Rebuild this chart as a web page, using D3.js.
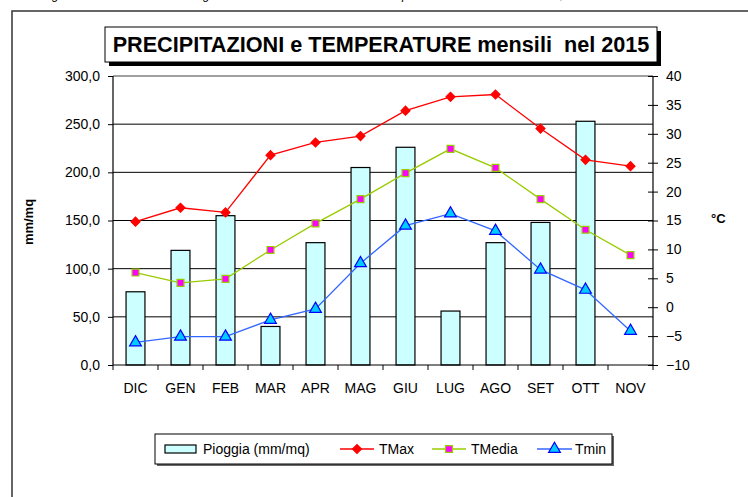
<!DOCTYPE html>
<html><head><meta charset="utf-8">
<script src="https://cdn.jsdelivr.net/npm/d3@7"></script>
<style>
html,body{margin:0;padding:0;background:#fff;}
svg{display:block;font-family:"Liberation Sans",Arial,sans-serif;}
</style></head>
<body>
<svg id="c" width="748" height="497"></svg>
<script>
const months = ["DIC","GEN","FEB","MAR","APR","MAG","GIU","LUG","AGO","SET","OTT","NOV"];
const pioggia = [76,119,155,40,127,205,226,56,127,148,253,0];
const tmax   = [14.8,17.2,16.4,26.3,28.5,29.6,34.0,36.4,36.8,30.9,25.5,24.4];
const tmedia = [6.0,4.2,4.9,9.9,14.5,18.7,23.2,27.4,24.1,18.7,13.4,9.0];
const tmin   = [-6.1,-5.1,-5.1,-2.2,-0.3,7.6,14.1,16.2,13.2,6.5,3.0,-4.1];
const leftTicks = [0,50,100,150,200,250,300];
const rightTicks = [-10,-5,0,5,10,15,20,25,30,35,40];
const titleText = "PRECIPITAZIONI e TEMPERATURE mensili  nel 2015";
const seriesNames = ["Pioggia (mm/mq)","TMax","TMedia","Tmin"];
const captionParts = ["Immagine 1 – Andamento","generale delle Medie e","piovosità mensili del 2015",","];

const svg = d3.select("#c");
const L=113, R=653, T=76, B=365;

// top cut-off caption line (only descenders visible, as in the reference)
const cap = svg.append("text").attr("y",-1).attr("font-size",12).attr("font-style","italic").attr("fill","#000");
const capX = [22,203,402,560];
captionParts.forEach((p,i)=>cap.append("tspan").attr("x",capX[i]).text(p));

// outer frame
svg.append("rect").attr("x",12).attr("y",11).attr("width",760).attr("height",520)
  .attr("fill","none").attr("stroke","#333").attr("stroke-width",1.5);

const x = d3.scaleBand().domain(months).range([L,R]).padding(0);
const yL = d3.scaleLinear().domain([0,300]).range([B,T]);
const yR = d3.scaleLinear().domain([-10,40]).range([B,T]);

// gridlines
svg.append("g").selectAll("line").data(leftTicks.filter(d=>d>0&&d<300)).join("line")
  .attr("x1",L).attr("x2",R).attr("y1",d=>yL(d)).attr("y2",d=>yL(d))
  .attr("stroke","#000").attr("stroke-width",1);
svg.append("line").attr("x1",L).attr("x2",R).attr("y1",T).attr("y2",T).attr("stroke","#808080").attr("stroke-width",1.5);

// bars
const bw = x.bandwidth()*0.42;
svg.append("g").selectAll("rect").data(months.map((m,i)=>({m,v:pioggia[i]})).filter(d=>d.v>0)).join("rect")
  .attr("x",d=>x(d.m)+(x.bandwidth()-bw)/2).attr("width",bw)
  .attr("y",d=>yL(d.v)).attr("height",d=>B-yL(d.v))
  .attr("fill","#CCFFFF").attr("stroke","#000").attr("stroke-width",1.2);

// axes
const fmt = d=>d.toFixed(1).replace(".",",");
const gL = svg.append("g").attr("transform",`translate(${L},0)`)
  .call(d3.axisLeft(yL).tickValues(leftTicks).tickFormat(fmt).tickSize(5).tickPadding(8));
const gR = svg.append("g").attr("transform",`translate(${R},0)`)
  .call(d3.axisRight(yR).tickValues(rightTicks).tickSize(5).tickPadding(8));
gR.selectAll(".tick line").attr("x1",-5);
const gB = svg.append("g").attr("transform",`translate(0,${B})`)
  .call(d3.axisBottom(x).tickSize(0).tickPadding(18));
svg.append("g").selectAll("line").data(months.concat(["_end"])).join("line")
  .attr("x1",(d,i)=>i<months.length?x(d):R).attr("x2",(d,i)=>i<months.length?x(d):R)
  .attr("y1",B).attr("y2",B+5).attr("stroke","#000");
[gL,gR,gB].forEach(g=>{
  g.selectAll("path.domain").attr("stroke","#000").attr("stroke-width",1.2);
  g.selectAll(".tick line").attr("stroke","#000");
  g.selectAll("text").attr("font-size",14).attr("fill","#000").attr("font-family","Liberation Sans, Arial, sans-serif");
});
gB.select("path.domain").attr("d",`M${L},0H${R}`);
gL.select("path.domain").attr("d",`M0,${B}V${T}`);
gR.select("path.domain").attr("d",`M0,${B}V${T}`);

// axis titles
svg.append("text").attr("transform","translate(33,222) rotate(-90)").attr("text-anchor","middle")
  .attr("font-size",13).attr("font-weight","bold").text("mm/mq");
svg.append("text").attr("x",711).attr("y",223).attr("font-size",13).attr("font-weight","bold").text("°C");

// lines
const cx = m=>x(m)+x.bandwidth()/2;
const lineGen = d3.line().x(d=>cx(d.m)).y(d=>yR(d.v));
const sMax = months.map((m,i)=>({m,v:tmax[i]}));
const sMed = months.map((m,i)=>({m,v:tmedia[i]}));
const sMin = months.map((m,i)=>({m,v:tmin[i]}));
const diamondSq = d3.symbol().type(d3.symbolSquare).size(40);
const square = d3.symbol().type(d3.symbolSquare).size(48);
const tri = d3.symbol().type(d3.symbolTriangle).size(60);

function series(data,color,sym,fill,stroke,rot){
  svg.append("path").datum(data).attr("d",lineGen).attr("fill","none").attr("stroke",color).attr("stroke-width",1.3);
  svg.append("g").selectAll("path").data(data).join("path")
    .attr("transform",d=>`translate(${cx(d.m)},${yR(d.v)}) rotate(${rot})`)
    .attr("d",sym).attr("fill",fill).attr("stroke",stroke).attr("stroke-width",1.2);
}
series(sMax,"#FF0000",diamondSq,"#FF0000","#FF0000",45);
series(sMed,"#99CC00",square,"#FF00FF","#99CC00",0);
series(sMin,"#3366FF",tri,"#00CCFF","#0000FF",0);

// title box
svg.append("rect").attr("x",109).attr("y",31).attr("width",552).attr("height",35).attr("fill","#000");
svg.append("rect").attr("x",105).attr("y",27).attr("width",552).attr("height",35).attr("fill","#fff").attr("stroke","#000").attr("stroke-width",1);
const tt = svg.append("text").attr("x",381).attr("y",52).attr("text-anchor","middle")
  .attr("font-size",19).attr("font-weight","bold").attr("font-family","'Liberation Sans',Arial,sans-serif")
  .style("white-space","pre").text(titleText);
const w = tt.node().getComputedTextLength();
tt.attr("font-size",19*537/w);

// legend
const lg = svg.append("g");
lg.append("rect").attr("x",157).attr("y",436).attr("width",457).attr("height",30).attr("fill","#666");
lg.append("rect").attr("x",155).attr("y",434).attr("width",457).attr("height",30).attr("fill","#fff").attr("stroke","#000").attr("stroke-width",1);
lg.append("rect").attr("x",165).attr("y",445).attr("width",31).attr("height",8).attr("fill","#CCFFFF").attr("stroke","#000").attr("stroke-width",1.2);
const legItems = [
  {x1:340,x2:374,tx:379,color:"#FF0000",sym:diamondSq,fill:"#FF0000",stroke:"#FF0000",rot:45},
  {x1:432,x2:466,tx:471,color:"#99CC00",sym:square,fill:"#FF00FF",stroke:"#99CC00",rot:0},
  {x1:537,x2:572,tx:575,color:"#3366FF",sym:tri,fill:"#00CCFF",stroke:"#0000FF",rot:0}
];
lg.append("text").attr("x",203).attr("y",454).attr("font-size",14).text(seriesNames[0]);
legItems.forEach((it,i)=>{
  lg.append("line").attr("x1",it.x1).attr("x2",it.x2).attr("y1",449).attr("y2",449).attr("stroke",it.color).attr("stroke-width",1.3);
  lg.append("path").attr("d",it.sym).attr("transform",`translate(${(it.x1+it.x2)/2},449) rotate(${it.rot})`)
    .attr("fill",it.fill).attr("stroke",it.stroke).attr("stroke-width",1.2);
  lg.append("text").attr("x",it.tx).attr("y",454).attr("font-size",14).text(seriesNames[i+1]);
});
</script>
</body></html>
